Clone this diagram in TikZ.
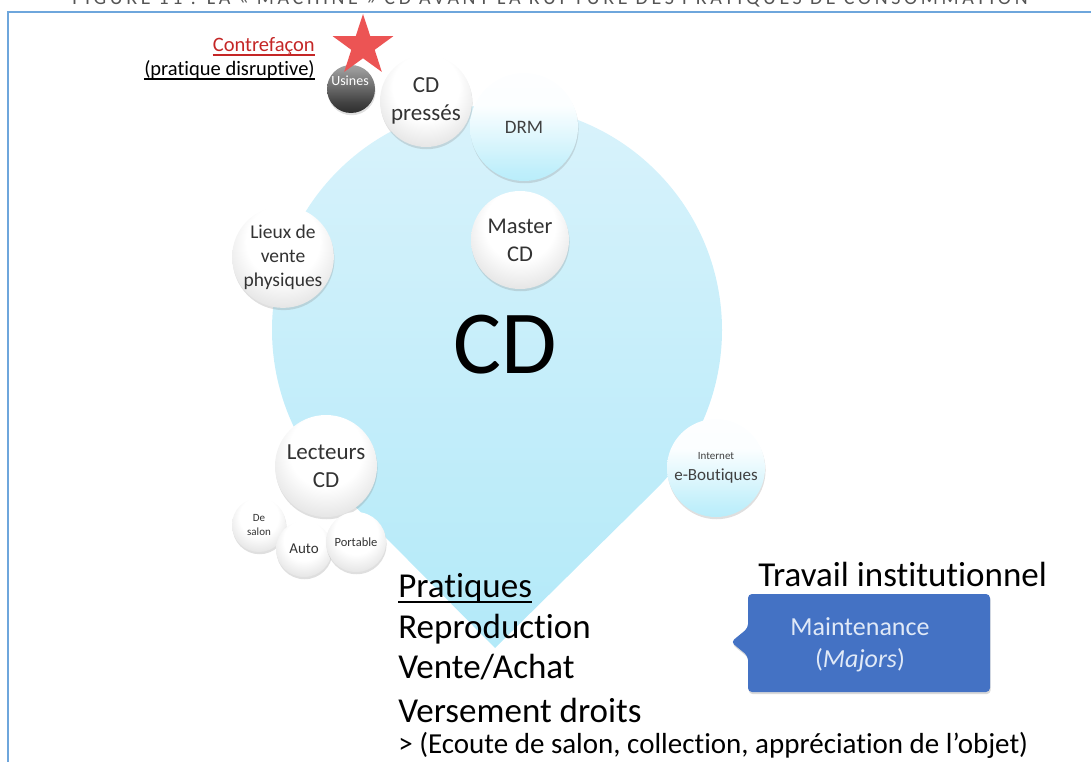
\documentclass[tikz,border=0pt]{standalone}
\usepackage{fontspec}
\setmainfont{Carlito}[Ligatures=NoCommon]
\usetikzlibrary{shapes.geometric,shadows,calc}
\definecolor{cadreBleu}{RGB}{110,166,220}
\definecolor{gHaut}{RGB}{238,248,252}
\definecolor{gMil}{RGB}{198,238,250}
\definecolor{gBas}{RGB}{160,229,247}
\definecolor{cyanBulle}{RGB}{150,228,248}
\definecolor{rougeEtoile}{RGB}{236,84,84}
\definecolor{rougeTexte}{RGB}{196,38,38}
\definecolor{bleuBulle}{RGB}{68,114,196}
\definecolor{texteBulle}{RGB}{224,233,247}
\definecolor{grisLegende}{RGB}{85,85,85}
% taille de police en pixels de l'image
\newcommand\taille[1]{\fontsize{\fpeval{#1*0.7113}pt}{\fpeval{#1*0.88}pt}\selectfont}
\pgfdeclareradialshading{bulle}{\pgfpoint{0bp}{12bp}}{color(0bp)=(white); color(18bp)=(white); color(36bp)=(black!15); color(50bp)=(black!40)}
\pgfdeclareverticalshading{bullecyan}{100bp}{color(0bp)=(cyanBulle); color(30bp)=(cyanBulle!60!white); color(60bp)=(white!97!cyanBulle); color(100bp)=(white)}
\pgfdeclareverticalshading{usine}{100bp}{color(0bp)=(black); color(35bp)=(black!75); color(70bp)=(black!40); color(100bp)=(black!18)}
\pgfdeclareverticalshading{goutte}{100bp}{color(0bp)=(gBas); color(50bp)=(gMil); color(100bp)=(gHaut)}
\begin{document}
\begin{tikzpicture}[x=0.025cm,y=0.025cm]
% Styles
\tikzstyle{bulle}=[circle,inner sep=0pt,shading=bulle,text=black!80,align=center,drop shadow={opacity=0.25,shadow xshift=0.4pt,shadow yshift=-1.6pt}]
\tikzstyle{bullecyan}=[bulle,shading=bullecyan,text=black!75]
\tikzstyle{texte}=[inner sep=0pt,anchor=base west,font=\taille{35}]
\tikzstyle{souligne}=[line width=1.4*\pix]
% Dimensions
\def\pix{0.025cm}
\def\rayon{225}
% Cadre et légende
\useasboundingbox (0,0) rectangle (1091,-762);
\clip (0,0) rectangle (1091,-762);
\node[inner sep=0pt,anchor=base,text=grisLegende,font=\taille{20}\addfontfeature{LetterSpace=18}] (legende) at (550,-5) {FIGURE 11 : LA « MACHINE » CD AVANT LA RUPTURE DES PRATIQUES DE CONSOMMATION};
\draw[cadreBleu,line width=2.2*\pix] (1100,-12) -- (8,-12) -- (8,-770);
% Goutte
\coordinate (centre) at (497,-330);
\coordinate (pointe) at (495,-648);
\shade[shading=goutte] ($(centre)+(-135:\rayon)$) -- (pointe) -- ($(centre)+(-45:\rayon)$) arc[start angle=-45,end angle=225,radius=\rayon] -- cycle;
\node[font=\taille{90}] (cd) at (505,-345) {CD};
% Bulles du haut
\node[bulle,shading=usine,minimum size=48*\pix] (usines) at (351,-89) {};
\node[inner sep=0pt,text=white,font=\taille{14}] (usinestxt) at (350,-81) {Usines};
\node[bullecyan,minimum size=108*\pix,font=\taille{19}] (drm) at (524,-127) {DRM};
\node[bulle,minimum size=92*\pix,font=\taille{23}] (cdpresses) at (426,-101) {CD\\pressés};
\node[star,star points=5,star point ratio=2.6,fill=rougeEtoile,inner sep=0pt,minimum size=64*\pix] (etoile) at (363,-46) {};
\node[inner sep=0pt,anchor=base east,text=rougeTexte,font=\taille{20.5}] (contrefacon) at (315,-52) {Contrefaçon};
\node[inner sep=0pt,anchor=base east,font=\taille{20.5}] (disruptive) at (315,-75) {(pratique disruptive)};
\draw[souligne,rougeTexte] ([yshift=-3*\pix]contrefacon.base west) -- ([yshift=-3*\pix]contrefacon.base east);
\draw[souligne] ([yshift=-4*\pix]disruptive.base west) -- ([yshift=-4*\pix]disruptive.base east);
\node[bulle,minimum size=98*\pix,font=\taille{22.5}] (master) at (520,-240) {Master\\CD};
\node[bulle,minimum size=96*\pix,font=\taille{19.5}] (lieux) at (283,-257) {Lieux de\\vente\\physiques};
% Lecteurs
\node[bulle,minimum size=102*\pix,font=\taille{23}] (lecteurs) at (326,-466) {Lecteurs\\CD};
\node[bulle,minimum size=54*\pix,font=\taille{11}] (salon) at (259,-525) {De\\salon};
\node[bulle,minimum size=56*\pix,font=\taille{15}] (auto) at (304,-549) {Auto};
\node[bulle,minimum size=60*\pix,font=\taille{12.5}] (portable) at (356,-542) {Portable};
% Vente en ligne
\node[bullecyan,minimum size=98*\pix,font=\taille{17}] (eboutiques) at (716,-468) {{\taille{11}Internet}\\e-Boutiques};
% Pratiques
\node[texte] (pratiques) at (398,-597) {Pratiques};
\draw[souligne] ([yshift=-5*\pix]pratiques.base west) -- ([yshift=-5*\pix]pratiques.base east);
\node[texte] (reproduction) at (398,-638) {Reproduction};
\node[texte] (venteachat) at (398,-678) {Vente/Achat};
\node[texte] (versement) at (398,-722) {Versement droits};
\node[texte,font=\taille{29}] (ecoute) at (398,-753) {> (Ecoute de salon, collection, appréciation de l’objet)};
% Travail institutionnel
\node[texte] (travail) at (758,-586) {Travail institutionnel};
\path[fill=bleuBulle,rounded corners=4*\pix,drop shadow={opacity=0.3,shadow xshift=0.5pt,shadow yshift=-1.5pt}] (748,-594) -- (990,-594) -- (990,-692) -- (748,-692) -- (748,-656) -- (731,-642) -- (748,-628) -- cycle;
\node[text=texteBulle,align=center,font=\taille{26}] (maintenance) at (860,-645) {Maintenance\\(\textit{Majors})};
\end{tikzpicture}
\end{document}
